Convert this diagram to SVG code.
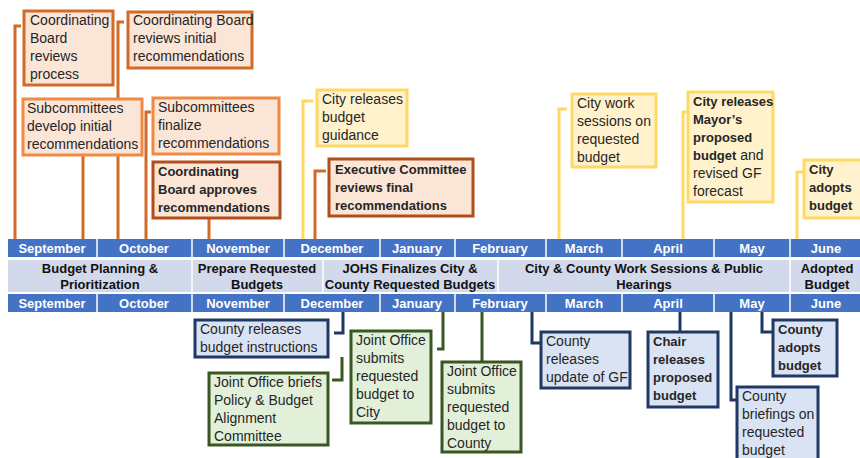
<svg xmlns="http://www.w3.org/2000/svg" width="860" height="458" viewBox="0 0 860 458">
<style>
text{font-family:"Liberation Sans",Arial,sans-serif;font-size:14px;fill:#262626}
.b{font-weight:bold;font-size:13px}
.m{font-weight:bold;font-size:13px;fill:#fff;text-anchor:middle}
.p{font-weight:bold;font-size:13px;fill:#111;text-anchor:middle}
.bar{fill:#4472C4}
.band{fill:#D2D9EA}
.div{stroke:#fff;stroke-width:1.5}
.or{fill:#FBE5D6;stroke:#D26A2A;stroke-width:3}
.orl{fill:#FBE5D6;stroke:#F08A42;stroke-width:3}
.ord{fill:#FBE5D6;stroke:#B24E1A;stroke-width:3}
.ye{fill:#FFF2CC;stroke:#FFD966;stroke-width:3}
.bl{fill:#DAE3F3;stroke:#1F3864;stroke-width:3}
.gr{fill:#E2F0D9;stroke:#385723;stroke-width:3}
.co{fill:none;stroke:#D26A2A;stroke-width:3}
.cy{fill:none;stroke:#FFD966;stroke-width:3}
.cb{fill:none;stroke:#1F3864;stroke-width:3}
.cg{fill:none;stroke:#385723;stroke-width:3}
</style>
<rect width="860" height="458" fill="#fff"/>
<g id="timeline">
<rect class="bar" x="8" y="239" width="852" height="18"/>
<rect class="band" x="8" y="260" width="852" height="32"/>
<rect class="bar" x="8" y="294" width="852" height="18"/>
<g class="div">
<line x1="97" y1="239" x2="97" y2="257"/><line x1="192" y1="239" x2="192" y2="257"/><line x1="284" y1="239" x2="284" y2="257"/><line x1="380" y1="239" x2="380" y2="257"/><line x1="455" y1="239" x2="455" y2="257"/><line x1="546" y1="239" x2="546" y2="257"/><line x1="622" y1="239" x2="622" y2="257"/><line x1="714" y1="239" x2="714" y2="257"/><line x1="790" y1="239" x2="790" y2="257"/>
<line x1="97" y1="294" x2="97" y2="312"/><line x1="192" y1="294" x2="192" y2="312"/><line x1="284" y1="294" x2="284" y2="312"/><line x1="380" y1="294" x2="380" y2="312"/><line x1="455" y1="294" x2="455" y2="312"/><line x1="546" y1="294" x2="546" y2="312"/><line x1="622" y1="294" x2="622" y2="312"/><line x1="714" y1="294" x2="714" y2="312"/><line x1="790" y1="294" x2="790" y2="312"/>
<line x1="192" y1="260" x2="192" y2="292"/><line x1="323" y1="260" x2="323" y2="292"/><line x1="498" y1="260" x2="498" y2="292"/><line x1="790" y1="260" x2="790" y2="292"/>
</g>
<text class="m" x="52" y="253">September</text><text class="m" x="144" y="253">October</text><text class="m" x="238" y="253">November</text><text class="m" x="332" y="253">December</text><text class="m" x="417" y="253">January</text><text class="m" x="500" y="253">February</text><text class="m" x="584" y="253">March</text><text class="m" x="668" y="253">April</text><text class="m" x="752" y="253">May</text><text class="m" x="826" y="253">June</text>
<text class="m" x="52" y="308">September</text><text class="m" x="144" y="308">October</text><text class="m" x="238" y="308">November</text><text class="m" x="332" y="308">December</text><text class="m" x="417" y="308">January</text><text class="m" x="500" y="308">February</text><text class="m" x="584" y="308">March</text><text class="m" x="668" y="308">April</text><text class="m" x="752" y="308">May</text><text class="m" x="826" y="308">June</text>
<text class="p" x="100" y="273">Budget Planning &amp;</text><text class="p" x="100" y="289">Prioritization</text>
<text class="p" x="257" y="273">Prepare Requested</text><text class="p" x="257" y="289">Budgets</text>
<text class="p" x="410" y="273">JOHS Finalizes City &amp;</text><text class="p" x="410" y="289">County Requested Budgets</text>
<text class="p" x="644" y="273">City &amp; County Work Sessions &amp; Public</text><text class="p" x="644" y="289">Hearings</text>
<text class="p" x="827" y="273">Adopted</text><text class="p" x="827" y="289">Budget</text>
</g>
<g id="connectors">
<path class="co" d="M21,26 H15 V239"/>
<path class="co" d="M124,22 H118 V239"/>
<path class="co" d="M83,155 V239"/>
<path class="co" d="M151,112 H146 V239"/>
<path class="co" d="M209,218 V239"/>
<path class="cy" d="M313,101 H303 V239"/>
<path class="co" d="M326,171 H315 V239"/>
<path class="cy" d="M567,109 H559 V239"/>
<path class="cy" d="M688,112 H683 V239"/>
<path class="cy" d="M803,172 H797 V239"/>
<path class="cb" d="M343,312 V333 H334"/>
<path class="cg" d="M342,357 V380 H332"/>
<path class="cg" d="M443,312 V349 H437"/>
<path class="cg" d="M482,312 V362"/>
<path class="cb" d="M532,312 V343 H541"/>
<path class="cb" d="M680,312 V332"/>
<path class="cb" d="M762,312 V332 H773"/>
<path class="cb" d="M731,312 V400 H737"/>
</g>
<g id="n1"><rect class="or" x="24" y="11" width="89" height="74"/><text x="30" y="25">Coordinating</text><text x="30" y="43">Board</text><text x="30" y="61">reviews</text><text x="30" y="79">process</text></g>
<g id="n2"><rect class="or" x="128" y="12" width="124" height="56"/><text x="133" y="25">Coordinating Board</text><text x="133" y="43">reviews initial</text><text x="133" y="61">recommendations</text></g>
<g id="n3"><rect class="orl" x="23" y="99" width="119" height="56"/><text x="27" y="113">Subcommittees</text><text x="27" y="131">develop initial</text><text x="27" y="149">recommendations</text></g>
<g id="n4"><rect class="orl" x="153" y="98" width="126" height="56"/><text x="158" y="112">Subcommittees</text><text x="158" y="130">finalize</text><text x="158" y="148">recommendations</text></g>
<g id="n5"><rect class="ord" x="153" y="162" width="127" height="56"/><text class="b" x="158" y="176">Coordinating</text><text class="b" x="158" y="194">Board approves</text><text class="b" x="158" y="212">recommendations</text></g>
<g id="n6"><rect class="ye" x="317" y="90" width="90" height="56"/><text x="322" y="104">City releases</text><text x="322" y="122">budget</text><text x="322" y="140">guidance</text></g>
<g id="n7"><rect class="ord" x="329" y="159" width="144" height="57"/><text class="b" x="335" y="174">Executive Committee</text><text class="b" x="335" y="192">reviews final</text><text class="b" x="335" y="210">recommendations</text></g>
<g id="n8"><rect class="ye" x="572" y="94" width="84" height="73"/><text x="577" y="108">City work</text><text x="577" y="126">sessions on</text><text x="577" y="144">requested</text><text x="577" y="162">budget</text></g>
<g id="n9"><rect class="ye" x="688" y="92" width="85" height="110"/><text class="b" x="693" y="106">City releases</text><text class="b" x="693" y="124">Mayor’s</text><text class="b" x="693" y="142">proposed</text><text x="693" y="160"><tspan class="b">budget</tspan> and</text><text x="693" y="178">revised GF</text><text x="693" y="196">forecast</text></g>
<g id="n10"><rect class="ye" x="804" y="160" width="70" height="58"/><text class="b" x="809" y="174">City</text><text class="b" x="809" y="192">adopts</text><text class="b" x="809" y="210">budget</text></g>
<g id="n11"><rect class="bl" x="195" y="320" width="133" height="37"/><text x="200" y="334">County releases</text><text x="200" y="352">budget instructions</text></g>
<g id="n12"><rect class="gr" x="209" y="373" width="119" height="72"/><text x="214" y="387">Joint Office briefs</text><text x="214" y="405">Policy &amp; Budget</text><text x="214" y="423">Alignment</text><text x="214" y="441">Committee</text></g>
<g id="n13"><rect class="gr" x="351" y="331" width="80" height="92"/><text x="356" y="345">Joint Office</text><text x="356" y="363">submits</text><text x="356" y="381">requested</text><text x="356" y="399">budget to</text><text x="356" y="417">City</text></g>
<g id="n14"><rect class="gr" x="442" y="362" width="79" height="90"/><text x="447" y="376">Joint Office</text><text x="447" y="394">submits</text><text x="447" y="412">requested</text><text x="447" y="430">budget to</text><text x="447" y="448">County</text></g>
<g id="n15"><rect class="bl" x="541" y="332" width="89" height="56"/><text x="546" y="346">County</text><text x="546" y="364">releases</text><text x="546" y="382">update of GF</text></g>
<g id="n16"><rect class="bl" x="648" y="332" width="70" height="75"/><text class="b" x="653" y="346">Chair</text><text class="b" x="653" y="364">releases</text><text class="b" x="653" y="382">proposed</text><text class="b" x="653" y="400">budget</text></g>
<g id="n17"><rect class="bl" x="773" y="320" width="64" height="56"/><text class="b" x="778" y="334">County</text><text class="b" x="778" y="352">adopts</text><text class="b" x="778" y="370">budget</text></g>
<g id="n18"><rect class="bl" x="737" y="387" width="81" height="80"/><text x="742" y="401">County</text><text x="742" y="419">briefings on</text><text x="742" y="437">requested</text><text x="742" y="455">budget</text></g>
</svg>
